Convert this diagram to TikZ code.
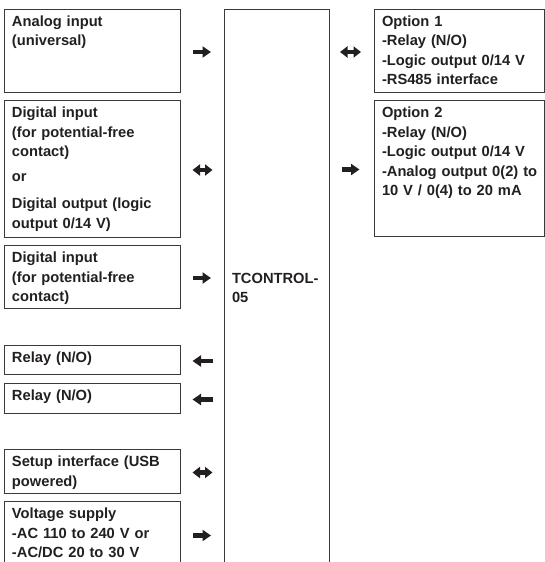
\documentclass[tikz,border=0pt]{standalone}
\usepackage{fontspec}
\setmainfont{Liberation Sans}
\usepackage{xcolor}
\usepackage{tikz}
\usetikzlibrary{positioning,arrows.meta}
\definecolor{tcink}{HTML}{231F20}
\definecolor{tcline}{HTML}{3A3A3A}

\begin{document}
\begin{tikzpicture}[
  x=1pt,y=-1pt,
  cell/.style={draw=tcline,line width=0.9pt,anchor=north west,align=left,text width=160pt,inner xsep=8pt,inner ysep=0pt,outer sep=0pt,text height=17.5pt,text=tcink,font=\bfseries\fontsize{14.7}{19.5}\selectfont},
  arr/.style={line width=4.2pt,tcink,-{Triangle[length=8.5pt,width=11pt]}},
  larr/.style={line width=4.2pt,tcink,{Triangle[length=8.5pt,width=11pt]}-},
  darr/.style={line width=4.2pt,tcink,{Triangle[length=7.5pt,width=11pt]}-{Triangle[length=7.5pt,width=11pt]}}
]
\useasboundingbox (0,0) rectangle (545,562);
\clip (0,0) rectangle (545,562);

% inputs and outputs, left column
\node[cell,text depth=65.5pt] (ain) at (4,9) {Analog input\\(universal)};
\node[cell,text depth=119.5pt,below=8pt of ain] (dio) {Digital input\\(for potential-free\\contact)\\[5pt]or\\[8pt]Digital output (logic\\output 0/14 V)};
\node[cell,text depth=45.5pt,below=8pt of dio] (din) {Digital input\\(for potential-free\\contact)};
\node[cell,text depth=11.5pt,below=37pt of din] (rel1) {Relay (N/O)};
\node[cell,text depth=12.5pt,below=9pt of rel1] (rel2) {Relay (N/O)};
\node[cell,text depth=26.5pt,below=36pt of rel2] (setup) {Setup interface (USB\\powered)};
\node[cell,text depth=48.5pt,below=8pt of setup] (supply) {Voltage supply\\-AC 110 to 240 V or\\-AC/DC 20 to 30 V};

% controller
\node[cell,text width=89pt,text height=274pt,text depth=320pt,right=44pt of ain.north east,anchor=north west] (ctrl) {TCONTROL-\\05};

% options, right column
\node[cell,text width=154.5pt,text depth=65.5pt,right=45pt of ctrl.north east,anchor=north west] (opt1) {Option 1\\-Relay (N/O)\\-Logic output 0/14 V\\-RS485 interface};
\node[cell,text width=154.5pt,text depth=118.5pt,below=8pt of opt1] (opt2) {Option 2\\-Relay (N/O)\\-Logic output 0/14 V\\\mbox{-Analog output 0(2) to}\\10 V / 0(4) to 20 mA};

\draw[arr] ([xshift=13pt,yshift=-1.5pt]ain.east) -- ++(18pt,0);
\draw[darr] ([xshift=12.5pt,yshift=-1.5pt]dio.east) -- ++(20pt,0);
\draw[arr] ([xshift=13pt,yshift=-1.5pt]din.east) -- ++(18pt,0);
\draw[larr] ([xshift=12.5pt,yshift=-1.5pt]rel1.east) -- ++(20pt,0);
\draw[larr] ([xshift=12.5pt,yshift=-1.5pt]rel2.east) -- ++(20pt,0);
\draw[darr] ([xshift=12.5pt,yshift=-1.5pt]setup.east) -- ++(20pt,0);
\draw[arr] ([xshift=13pt,yshift=-1.5pt]supply.east) -- ++(18pt,0);
\draw[darr] ([xshift=-34pt,yshift=-1.5pt]opt1.west) -- ++(21pt,0);
\draw[arr] ([xshift=-32.5pt,yshift=-1.5pt]opt2.west) -- ++(18pt,0);
\end{tikzpicture}
\end{document}
